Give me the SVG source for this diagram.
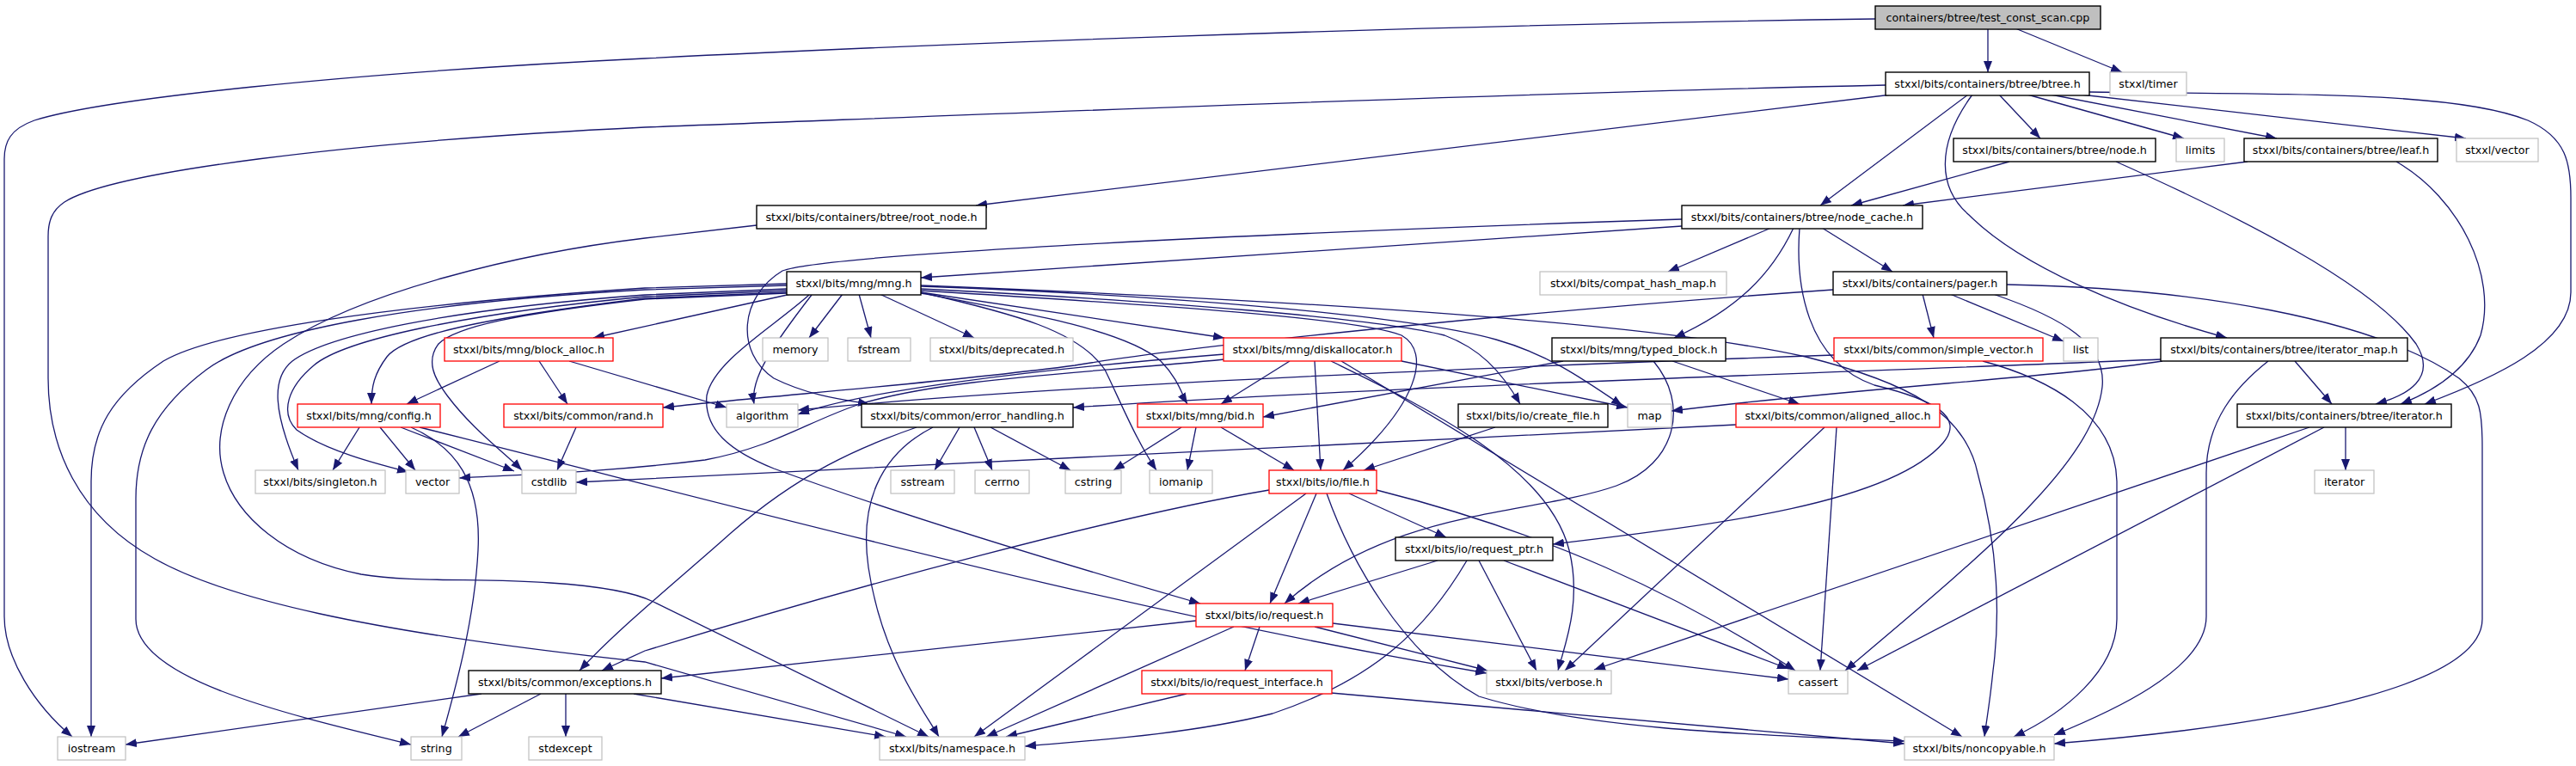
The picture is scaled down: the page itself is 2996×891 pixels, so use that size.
<svg xmlns="http://www.w3.org/2000/svg" width="2996" height="891" viewBox="0 0 2996 891">
<defs>
<marker id="a" markerWidth="13" markerHeight="10" refX="13" refY="5" orient="auto" markerUnits="userSpaceOnUse"><path d="M0,0 L13,5 L0,10 z" fill="#191970"/></marker>
<style>
.e{fill:none;stroke:#191970;stroke-width:1.3;marker-end:url(#a)}
.b{fill:#fff;stroke:#000;stroke-width:1.4}
.r{fill:#fff;stroke:#ff0000;stroke-width:1.3}
.g{fill:#fff;stroke:#bfbfbf;stroke-width:1.2}
.s{fill:#bfbfbf;stroke:#000;stroke-width:1.4}
text{font-family:"DejaVu Sans","Liberation Sans",Arial,sans-serif;font-size:12.7px;text-anchor:middle;fill:#000}
</style>
</defs>
<rect width="2996" height="891" fill="#fff"/>
<g id="edges">
<path class="e" d="M2312,33 L2312,84"/>
<path class="e" d="M2344,33 L2468,84"/>
<path class="e" d="M2181,22 C1600,30 1000,55 750,68 C400,85 120,115 40,140 C12,150 5,165 5,185 L5,717 C5,765 40,820 84,857"/>
<path class="e" d="M2200,110 L1135,239"/>
<path class="e" d="M2289,110 L2117,239"/>
<path class="e" d="M2325,110 L2373,161"/>
<path class="e" d="M2358,110 L2540,161"/>
<path class="e" d="M2385,110 L2648,161"/>
<path class="e" d="M2420,110 L2868,161"/>
<path class="e" d="M2430,107 C2700,110 2860,108 2940,140 C2985,160 2990,190 2990,230 L2990,340 C2990,400 2900,440 2820,470"/>
<path class="e" d="M2294,110 C2250,170 2255,220 2290,250 C2350,310 2470,360 2590,393"/>
<path class="e" d="M2193,99 C1700,110 1100,135 750,148 C400,165 130,200 75,235 C60,245 56,258 56,275 L56,440 C56,520 90,600 180,650 C260,695 420,735 750,770 L1054,857"/>
<path class="e" d="M880,262 L750,277 C600,295 420,340 330,400 C270,440 245,500 260,550 C275,600 330,650 420,668 C480,678 560,672 640,678 C700,682 740,690 760,700 L1080,857"/>
<path class="e" d="M2337,188 L2153,239"/>
<path class="e" d="M2461,188 C2600,250 2760,330 2810,400 C2835,440 2800,460 2763,470"/>
<path class="e" d="M2614,188 L2213,239"/>
<path class="e" d="M2787,188 C2860,230 2905,320 2885,390 C2870,430 2830,455 2792,470"/>
<path class="e" d="M1956,263 L1071,323"/>
<path class="e" d="M1956,255 C1500,270 960,295 910,315 C860,345 855,410 900,440 C940,460 980,465 1011,470"/>
<path class="e" d="M2060,265 L1940,316"/>
<path class="e" d="M2086,265 C2060,320 2020,360 1947,393"/>
<path class="e" d="M2119,265 L2201,316"/>
<path class="e" d="M2093,265 C2088,330 2100,420 2180,448 C2250,465 2285,485 2260,515 C2200,585 2000,610 1806,633"/>
<path class="e" d="M1071,332 C1400,345 1900,370 2100,415 C2220,445 2285,480 2300,550 C2325,640 2326,720 2318,780 C2314,820 2310,840 2308,857"/>
<path class="e" d="M920,342 L690,393"/>
<path class="e" d="M980,342 L941,393"/>
<path class="e" d="M999,342 L1013,393"/>
<path class="e" d="M1023,342 L1133,393"/>
<path class="e" d="M1071,340 L1424,393"/>
<path class="e" d="M915,340 L750,347 C560,370 470,390 450,415 C435,435 432,450 432,470"/>
<path class="e" d="M915,336 L750,343 C520,360 380,390 340,420 C315,440 318,480 347,547"/>
<path class="e" d="M915,338 L750,345 C540,365 400,395 365,425 C335,450 325,480 345,500 C380,525 440,540 475,549"/>
<path class="e" d="M915,341 L750,348 C600,365 530,380 510,400 C495,420 505,440 520,460 C550,500 585,525 607,547"/>
<path class="e" d="M915,330 L750,335 C450,355 250,385 190,420 C130,460 106,500 106,560 L106,857"/>
<path class="e" d="M915,332 L750,337 C480,352 300,385 240,430 C180,475 158,520 158,580 L158,720 C158,790 330,830 478,866"/>
<path class="e" d="M944,343 C900,400 872,440 877,470"/>
<path class="e" d="M941,343 C900,380 830,420 822,460 C818,500 850,525 900,545 C1050,600 1250,660 1396,702"/>
<path class="e" d="M1071,333 C1400,345 1650,370 1740,395 C1800,412 1840,440 1887,472"/>
<path class="e" d="M1071,336 C1350,350 1600,370 1680,390 C1720,405 1745,430 1768,470"/>
<path class="e" d="M1071,338 C1350,355 1580,370 1630,390 C1665,410 1650,470 1562,547"/>
<path class="e" d="M1071,340 C1180,365 1255,385 1285,430 C1300,460 1320,510 1345,547"/>
<path class="e" d="M1071,341 C1200,365 1310,385 1350,420 C1370,440 1375,460 1381,470"/>
<path class="e" d="M581,420 L473,470"/>
<path class="e" d="M627,420 L660,470"/>
<path class="e" d="M662,420 L845,474"/>
<path class="e" d="M418,497 L387,547"/>
<path class="e" d="M442,497 L483,547"/>
<path class="e" d="M466,497 L598,548"/>
<path class="e" d="M478,497 C530,520 560,560 556,640 C552,720 530,800 514,857"/>
<path class="e" d="M488,497 C900,600 1300,710 1729,783"/>
<path class="e" d="M670,497 L648,547"/>
<path class="e" d="M2132,337 C1800,360 1400,400 1250,425 C1100,445 900,460 771,474"/>
<path class="e" d="M2236,342 L2249,393"/>
<path class="e" d="M2268,342 L2400,397"/>
<path class="e" d="M2318,342 C2400,370 2450,400 2445,450 C2435,540 2300,650 2146,780"/>
<path class="e" d="M2334,331 C2550,335 2760,370 2860,440 C2885,460 2887,480 2887,520 L2887,720 C2887,790 2700,840 2389,865"/>
<path class="e" d="M1424,418 C1250,435 1100,440 1000,470 C940,490 900,520 820,535 C700,550 600,552 534,556"/>
<path class="e" d="M1424,412 C1200,430 1000,455 928,482"/>
<path class="e" d="M1500,420 L1420,470"/>
<path class="e" d="M1529,420 L1536,547"/>
<path class="e" d="M1548,420 C1650,470 1800,540 1825,640 C1840,700 1820,750 1812,780"/>
<path class="e" d="M1560,420 L2282,857"/>
<path class="e" d="M1630,420 L1893,474"/>
<path class="e" d="M1818,420 L1469,485"/>
<path class="e" d="M1923,420 C1965,470 1950,540 1880,565 C1780,600 1620,590 1494,702"/>
<path class="e" d="M1945,420 L2093,470"/>
<path class="e" d="M2133,413 C1700,428 1200,450 928,477"/>
<path class="e" d="M2306,420 C2380,440 2460,480 2462,560 L2462,720 C2462,780 2400,830 2342,857"/>
<path class="e" d="M2638,420 C2600,450 2566,490 2566,550 L2566,717 C2566,780 2450,830 2389,855"/>
<path class="e" d="M2669,420 L2712,470"/>
<path class="e" d="M2515,420 C2400,438 2150,452 1944,478"/>
<path class="e" d="M2513,418 C2100,435 1600,450 1248,474"/>
<path class="e" d="M1374,497 L1295,547"/>
<path class="e" d="M1391,497 L1381,547"/>
<path class="e" d="M1420,497 L1505,547"/>
<path class="e" d="M1116,497 L1087,547"/>
<path class="e" d="M1133,497 L1154,547"/>
<path class="e" d="M1152,497 L1245,547"/>
<path class="e" d="M1066,497 C1000,520 930,550 850,620 C800,665 720,730 674,780"/>
<path class="e" d="M1085,497 C1020,530 1000,590 1010,660 C1025,760 1070,820 1092,857"/>
<path class="e" d="M1739,497 L1586,547"/>
<path class="e" d="M2019,494 C1600,515 900,550 670,561"/>
<path class="e" d="M2122,497 L1820,780"/>
<path class="e" d="M2136,497 L2117,780"/>
<path class="e" d="M2728,497 L2728,547"/>
<path class="e" d="M2686,497 L1854,779"/>
<path class="e" d="M2703,497 L2160,780"/>
<path class="e" d="M1476,570 C1300,600 1000,680 750,757 L700,780"/>
<path class="e" d="M1519,574 L1133,857"/>
<path class="e" d="M1531,574 L1477,702"/>
<path class="e" d="M1543,574 C1570,650 1630,760 1720,810 C1850,850 2050,855 2215,862"/>
<path class="e" d="M1569,574 L1682,625"/>
<path class="e" d="M1601,570 C1800,620 1950,690 2088,780"/>
<path class="e" d="M1672,652 L1510,702"/>
<path class="e" d="M1706,652 C1660,730 1600,790 1480,830 C1380,855 1260,862 1192,868"/>
<path class="e" d="M1720,652 L1787,780"/>
<path class="e" d="M1749,652 L2080,778"/>
<path class="e" d="M1391,722 L769,789"/>
<path class="e" d="M1435,729 L1147,857"/>
<path class="e" d="M1465,729 L1448,780"/>
<path class="e" d="M1529,729 L1730,780"/>
<path class="e" d="M1550,725 L2080,790"/>
<path class="e" d="M1380,807 L1170,857"/>
<path class="e" d="M1548,806 L2215,865"/>
<path class="e" d="M560,807 L146,866"/>
<path class="e" d="M629,807 L533,857"/>
<path class="e" d="M658,807 L658,857"/>
<path class="e" d="M737,807 L1030,857"/>
</g>
<g id="n_test"><rect class="s" x="2181" y="7" width="262" height="27"/><text x="2312" y="25">containers/btree/test_const_scan.cpp</text></g>
<g id="n_btree"><rect class="b" x="2193" y="84" width="237" height="27"/><text x="2311.5" y="102">stxxl/bits/containers/btree/btree.h</text></g>
<g id="n_timer"><rect class="g" x="2454" y="84" width="89" height="27"/><text x="2498.5" y="102">stxxl/timer</text></g>
<g id="n_node"><rect class="b" x="2272" y="161" width="235" height="27"/><text x="2389.5" y="179">stxxl/bits/containers/btree/node.h</text></g>
<g id="n_limits"><rect class="g" x="2531" y="161" width="56" height="27"/><text x="2559" y="179">limits</text></g>
<g id="n_leaf"><rect class="b" x="2610" y="161" width="225" height="27"/><text x="2722.5" y="179">stxxl/bits/containers/btree/leaf.h</text></g>
<g id="n_svector"><rect class="g" x="2857" y="161" width="95" height="27"/><text x="2904.5" y="179">stxxl/vector</text></g>
<g id="n_root_node"><rect class="b" x="880" y="239" width="267" height="27"/><text x="1013.5" y="257">stxxl/bits/containers/btree/root_node.h</text></g>
<g id="n_node_cache"><rect class="b" x="1956" y="239" width="280" height="27"/><text x="2096" y="257">stxxl/bits/containers/btree/node_cache.h</text></g>
<g id="n_mng"><rect class="b" x="915" y="316" width="156" height="27"/><text x="993" y="334">stxxl/bits/mng/mng.h</text></g>
<g id="n_compat"><rect class="g" x="1791" y="316" width="217" height="27"/><text x="1899.5" y="334">stxxl/bits/compat_hash_map.h</text></g>
<g id="n_pager"><rect class="b" x="2132" y="316" width="202" height="27"/><text x="2233" y="334">stxxl/bits/containers/pager.h</text></g>
<g id="n_block_alloc"><rect class="r" x="517" y="393" width="196" height="27"/><text x="615" y="411">stxxl/bits/mng/block_alloc.h</text></g>
<g id="n_memory"><rect class="g" x="887" y="393" width="76" height="27"/><text x="925" y="411">memory</text></g>
<g id="n_fstream"><rect class="g" x="986" y="393" width="73" height="27"/><text x="1022.5" y="411">fstream</text></g>
<g id="n_deprecated"><rect class="g" x="1082" y="393" width="166" height="27"/><text x="1165" y="411">stxxl/bits/deprecated.h</text></g>
<g id="n_diskalloc"><rect class="r" x="1423" y="393" width="207" height="27"/><text x="1526.5" y="411">stxxl/bits/mng/diskallocator.h</text></g>
<g id="n_typed_block"><rect class="b" x="1805" y="393" width="202" height="27"/><text x="1906" y="411">stxxl/bits/mng/typed_block.h</text></g>
<g id="n_simple_vector"><rect class="r" x="2133" y="393" width="243" height="27"/><text x="2254.5" y="411">stxxl/bits/common/simple_vector.h</text></g>
<g id="n_list"><rect class="g" x="2400" y="393" width="40" height="27"/><text x="2420" y="411">list</text></g>
<g id="n_iterator_map"><rect class="b" x="2513" y="393" width="287" height="27"/><text x="2656.5" y="411">stxxl/bits/containers/btree/iterator_map.h</text></g>
<g id="n_config"><rect class="r" x="346" y="470" width="166" height="27"/><text x="429" y="488">stxxl/bits/mng/config.h</text></g>
<g id="n_rand"><rect class="r" x="586" y="470" width="185" height="27"/><text x="678.5" y="488">stxxl/bits/common/rand.h</text></g>
<g id="n_algorithm"><rect class="g" x="845" y="470" width="83" height="27"/><text x="886.5" y="488">algorithm</text></g>
<g id="n_error_handling"><rect class="b" x="1002" y="470" width="246" height="27"/><text x="1125" y="488">stxxl/bits/common/error_handling.h</text></g>
<g id="n_bid"><rect class="r" x="1323" y="470" width="146" height="27"/><text x="1396" y="488">stxxl/bits/mng/bid.h</text></g>
<g id="n_create_file"><rect class="b" x="1696" y="470" width="174" height="27"/><text x="1783" y="488">stxxl/bits/io/create_file.h</text></g>
<g id="n_map"><rect class="g" x="1893" y="470" width="51" height="27"/><text x="1918.5" y="488">map</text></g>
<g id="n_aligned_alloc"><rect class="r" x="2019" y="470" width="237" height="27"/><text x="2137.5" y="488">stxxl/bits/common/aligned_alloc.h</text></g>
<g id="n_iterator_h"><rect class="b" x="2602" y="470" width="249" height="27"/><text x="2726.5" y="488">stxxl/bits/containers/btree/iterator.h</text></g>
<g id="n_singleton"><rect class="g" x="297" y="547" width="151" height="27"/><text x="372.5" y="565">stxxl/bits/singleton.h</text></g>
<g id="n_vector"><rect class="g" x="472" y="547" width="62" height="27"/><text x="503" y="565">vector</text></g>
<g id="n_cstdlib"><rect class="g" x="607" y="547" width="63" height="27"/><text x="638.5" y="565">cstdlib</text></g>
<g id="n_sstream"><rect class="g" x="1036" y="547" width="74" height="27"/><text x="1073" y="565">sstream</text></g>
<g id="n_cerrno"><rect class="g" x="1134" y="547" width="63" height="27"/><text x="1165.5" y="565">cerrno</text></g>
<g id="n_cstring"><rect class="g" x="1239" y="547" width="65" height="27"/><text x="1271.5" y="565">cstring</text></g>
<g id="n_iomanip"><rect class="g" x="1337" y="547" width="73" height="27"/><text x="1373.5" y="565">iomanip</text></g>
<g id="n_file"><rect class="r" x="1476" y="547" width="125" height="27"/><text x="1538.5" y="565">stxxl/bits/io/file.h</text></g>
<g id="n_iterator"><rect class="g" x="2692" y="547" width="69" height="27"/><text x="2726.5" y="565">iterator</text></g>
<g id="n_request_ptr"><rect class="b" x="1623" y="625" width="183" height="27"/><text x="1714.5" y="643">stxxl/bits/io/request_ptr.h</text></g>
<g id="n_request"><rect class="r" x="1391" y="702" width="159" height="27"/><text x="1470.5" y="720">stxxl/bits/io/request.h</text></g>
<g id="n_exceptions"><rect class="b" x="545" y="780" width="224" height="27"/><text x="657" y="798">stxxl/bits/common/exceptions.h</text></g>
<g id="n_request_interface"><rect class="r" x="1328" y="780" width="221" height="27"/><text x="1438.5" y="798">stxxl/bits/io/request_interface.h</text></g>
<g id="n_verbose"><rect class="g" x="1729" y="780" width="145" height="27"/><text x="1801.5" y="798">stxxl/bits/verbose.h</text></g>
<g id="n_cassert"><rect class="g" x="2080" y="780" width="69" height="27"/><text x="2114.5" y="798">cassert</text></g>
<g id="n_iostream"><rect class="g" x="67" y="857" width="79" height="27"/><text x="106.5" y="875">iostream</text></g>
<g id="n_string"><rect class="g" x="478" y="857" width="59" height="27"/><text x="507.5" y="875">string</text></g>
<g id="n_stdexcept"><rect class="g" x="615" y="857" width="85" height="27"/><text x="657.5" y="875">stdexcept</text></g>
<g id="n_namespace"><rect class="g" x="1023" y="857" width="169" height="27"/><text x="1107.5" y="875">stxxl/bits/namespace.h</text></g>
<g id="n_noncopyable"><rect class="g" x="2215" y="857" width="174" height="27"/><text x="2302" y="875">stxxl/bits/noncopyable.h</text></g>
</svg>
